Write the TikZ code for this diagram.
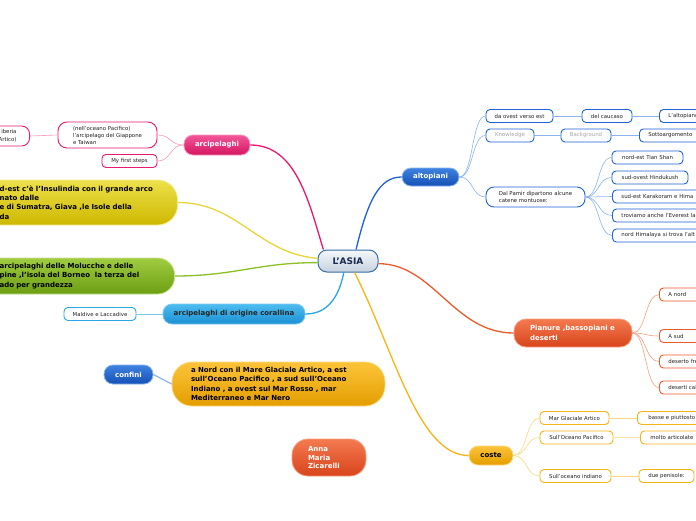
\documentclass[tikz,border=0pt]{standalone}
\usepackage{fontspec}
\setmainfont{DejaVu Sans}
\usepackage{xcolor}
\usepackage{tikz}
\usetikzlibrary{positioning}

\definecolor{pinkTop}{HTML}{F2579A}\definecolor{pinkBot}{HTML}{D4145F}\definecolor{pinkLine}{HTML}{E8196E}\definecolor{pinkTwig}{HTML}{F59AC0}
\definecolor{yelTop}{HTML}{EDE04A}\definecolor{yelBot}{HTML}{CDB800}\definecolor{yelLine}{HTML}{E6D63A}
\definecolor{grnTop}{HTML}{A0CC40}\definecolor{grnBot}{HTML}{6C9E14}\definecolor{grnLine}{HTML}{8CBF26}
\definecolor{cyTop}{HTML}{4DBDF0}\definecolor{cyBot}{HTML}{1B8FD2}\definecolor{cyLine}{HTML}{2BA6E4}\definecolor{cyTwig}{HTML}{7CC8EF}
\definecolor{bluTop}{HTML}{3F82E0}\definecolor{bluBot}{HTML}{1550B5}\definecolor{bluLine}{HTML}{1F62D0}\definecolor{bluTwig}{HTML}{8AB4F0}
\definecolor{orgTop}{HTML}{FCC43A}\definecolor{orgBot}{HTML}{E39E00}\definecolor{orgLine}{HTML}{F7B416}\definecolor{orgTwig}{HTML}{FCD980}
\definecolor{redTop}{HTML}{F47A50}\definecolor{redBot}{HTML}{D8441C}\definecolor{redLine}{HTML}{EC5A2C}\definecolor{redTwig}{HTML}{F5A080}
\definecolor{rootTop}{HTML}{F4F7FA}\definecolor{rootBot}{HTML}{C6D2DF}\definecolor{rootLine}{HTML}{3B6EA5}\definecolor{rootText}{HTML}{1A2A50}
\definecolor{leafText}{HTML}{222222}

\begin{document}
\begin{tikzpicture}[x=1pt, y=-1pt,
    root/.style={draw=rootLine, line width=1pt, rounded corners=9pt, top color=rootTop, bottom color=rootBot, minimum width=60pt, minimum height=22pt, font=\bfseries\fontsize{9}{10}\selectfont, text=rootText},
    topic/.style={rounded corners=9pt, line width=0.8pt, minimum height=19pt, font=\bfseries\fontsize{7}{9.3}\selectfont, text=white},
    pinktopic/.style={topic, top color=pinkTop, bottom color=pinkBot, draw=pinkTwig},
    yeltopic/.style={topic, top color=yelTop, bottom color=yelBot, draw=yelTop!60!white, text=black},
    grntopic/.style={topic, top color=grnTop, bottom color=grnBot, draw=grnTop!60!white, text=black},
    cytopic/.style={topic, top color=cyTop, bottom color=cyBot, draw=cyTwig, text=black!85},
    blutopic/.style={topic, top color=bluTop, bottom color=bluBot, draw=bluTwig},
    orgtopic/.style={topic, top color=orgTop, bottom color=orgBot, draw=orgTwig, text=black},
    redtopic/.style={topic, top color=redTop, bottom color=redBot, draw=redTwig},
    leaf/.style={draw, fill=white, line width=0.9pt, rounded corners=4pt, minimum height=13pt, inner ysep=1pt, font=\fontsize{5.4}{6}\selectfont, text=leafText},
    cutleaf/.style={leaf, anchor=west, text width=110pt, align=left, inner xsep=9pt},
    link/.style={line width=1.3pt},
    twig/.style={line width=0.6pt, to path={.. controls +(14,0) and +(-14,0) .. (\tikztotarget) \tikztonodes}},
    twigl/.style={line width=0.6pt, to path={.. controls +(-14,0) and +(14,0) .. (\tikztotarget) \tikztonodes}}
]
\useasboundingbox (0,0) rectangle (696,520);
\fill[white] (0,0) rectangle (696,520);
\clip (0,0) rectangle (696,520);

\node[root] (asia) at (348,261) {L'ASIA};

\node[pinktopic, minimum width=66pt, minimum height=20pt] (arcip) at (217,145) {arcipelaghi};
\node[leaf, draw=pinkLine, rounded corners=9pt, minimum width=99pt, minimum height=26pt, align=left, font=\fontsize{5.4}{7}\selectfont] (giappone) at (107.5,135) {(nell'oceano Pacifico)\\l'arcipelago del Giappone\\e Taiwan};
\node[leaf, draw=pinkLine, minimum width=55pt] (steps) at (129.5,161) {My first steps};
\node[leaf, draw=pinkLine, rounded corners=8pt, anchor=east, text width=40pt, align=right, inner xsep=13pt, minimum height=20pt, font=\fontsize{5.4}{8}\selectfont] (siberia) at (30,136) {iberia\\Artico)};

\node[yeltopic, rounded corners=20pt, anchor=east, text width=158pt, align=left, inner xsep=20pt, minimum height=45pt] (sonda) at (178,202.5) {d-est c'è l'Insulindia con il grande arco\\nato dalle\\e di Sumatra, Giava ,le Isole della\\da};
\node[grntopic, rounded corners=17pt, anchor=east, text width=155pt, align=left, inner xsep=20pt, minimum height=36pt] (molucche) at (175,276) {arcipelaghi delle Molucche e delle\\pine ,l'isola del Borneo\ \ la terza del\\ado per grandezza};

\node[cytopic, minimum width=142pt, minimum height=20pt] (corall) at (234,314) {arcipelaghi di origine corallina};
\node[leaf, draw=cyLine, minimum width=72pt] (maldive) at (100,314) {Maldive e Laccadive};

\node[blutopic, minimum width=49pt, minimum height=19pt] (confini) at (128.5,374.5) {confini};
\node[orgtopic, rounded corners=20pt, text width=175pt, align=left, inner xsep=19pt, minimum height=44pt] (nord) at (278.5,384) {a Nord con il Mare Glaciale Artico, a est\\sull'Oceano Pacifico , a sud sull'Oceano\\Indiano , a ovest sul Mar Rosso , mar\\Mediterraneo e Mar Nero};

\node[redtopic, rounded corners=16pt, text width=42pt, align=left, inner xsep=16pt, minimum height=37pt, font=\bfseries\fontsize{7}{8.5}\selectfont] (anna) at (329,457.5) {Anna\\Maria\\Zicarelli};

\node[blutopic, minimum width=57pt, minimum height=18pt] (alto) at (430.5,177) {altopiani};
\node[leaf, draw=bluLine, minimum width=67pt] (ovest) at (519.5,116) {da ovest verso est};
\node[leaf, draw=bluLine, minimum width=50pt] (caucaso) at (607,116) {del caucaso};
\node[cutleaf, draw=bluLine] (altopiano) at (659,116) {L'altopiano};
\node[leaf, draw=bluLine, minimum width=48pt, text=black!35] (knowledge) at (510,135.5) {Knowledge};
\node[leaf, draw=bluLine, minimum width=50pt, text=black!35] (background) at (586,135.5) {Background};
\node[cutleaf, draw=bluLine] (sotto) at (639,135.5) {Sottoargomento};
\node[leaf, draw=bluLine, rounded corners=8pt, minimum width=99pt, minimum height=20pt, align=left, font=\fontsize{5.4}{7}\selectfont] (pamir) at (535.5,197) {Dal Pamir dipartono alcune\\catene montuose:};
\node[leaf, draw=bluLine, minimum width=71pt] (tian) at (647.5,157.5) {nord-est Tian Shan};
\node[leaf, draw=bluLine, minimum width=76pt] (hindu) at (650,177.5) {sud-ovest Hindukush};
\node[cutleaf, draw=bluLine] (karak) at (612,196.5) {sud-est Karakoram e Hima};
\node[cutleaf, draw=bluLine] (everest) at (612,215.5) {troviamo anche l'Everest la};
\node[cutleaf, draw=bluLine] (himal) at (612,235.5) {nord Himalaya si trova l'alt};

\node[redtopic, rounded corners=12pt, text width=86pt, align=left, inner xsep=16pt, minimum height=28pt] (pianure) at (573,333) {Pianure ,bassopiani e\\deserti};
\node[cutleaf, draw=redLine] (anord) at (659,294.5) {A nord};
\node[cutleaf, draw=redLine] (asud) at (659,336) {A sud};
\node[cutleaf, draw=redLine] (freddo) at (659,361.5) {deserto fre};
\node[cutleaf, draw=redLine] (caldo) at (659,387.5) {deserti cal};

\node[orgtopic, minimum width=44pt, minimum height=19pt] (coste) at (491,455.5) {coste};
\node[leaf, draw=orgLine, minimum width=69pt] (glaciale) at (574.5,418) {Mar Glaciale Artico};
\node[cutleaf, draw=orgLine, inner xsep=11pt] (basse) at (637,418) {basse e piuttosto};
\node[leaf, draw=orgLine, minimum width=73pt] (pacif) at (576.5,437.5) {Sull'Oceano Pacifico};
\node[cutleaf, draw=orgLine, inner xsep=10pt] (molto) at (640,437.5) {molto articolate};
\node[leaf, draw=orgLine, minimum width=71pt] (indiano) at (575.5,476) {Sull'oceano indiano};
\node[leaf, draw=orgLine, minimum width=55pt] (penisole) at (666.5,476) {due penisole:};

\draw[link, pinkLine] (asia.155) .. controls +(-15,-50) and +(45,0) .. (arcip.east);
\draw[link, yelLine] (asia.175) .. controls +(-60,-5) and +(60,0) .. (sonda.east);
\draw[link, grnLine] (asia.183) .. controls +(-60,0) and +(60,0) .. (molucche.east);
\draw[link, cyLine] (asia.250) .. controls +(-5,25) and +(22,0) .. (corall.east);
\draw[link, bluLine] (asia.55) .. controls +(12,-50) and +(-22,0) .. (alto.west);
\draw[link, redLine] (asia.355) .. controls +(55,0) and +(-60,0) .. (pianure.west);
\draw[link, orgLine] (asia.300) .. controls +(40,80) and +(-50,0) .. (coste.west);

\draw[twigl, pinkTwig] (arcip.west) to (giappone.east);
\draw[twigl, pinkTwig] (arcip.west) to (steps.east);
\draw[twig, pinkTwig] (siberia.east) -- (giappone.west);
\draw[twig, cyTwig] (maldive.east) -- (corall.west);
\draw[line width=1.2pt, bluTwig] (confini.east) -- (nord.west);

\draw[twig, bluTwig] (alto.east) to (ovest.west);
\draw[twig, bluTwig] (alto.east) to (knowledge.west);
\draw[twig, bluTwig] (alto.east) to (pamir.west);
\draw[twig, bluTwig] (ovest.east) -- (caucaso.west);
\draw[twig, bluTwig] (caucaso.east) -- (altopiano.west);
\draw[line width=1.2pt, bluTwig] (knowledge.east) -- (background.west);
\draw[line width=1.2pt, bluTwig] (background.east) -- (sotto.west);
\foreach \leafname in {tian, hindu, karak, everest, himal}
  \draw[twig, bluTwig] (pamir.east) to (\leafname.west);

\foreach \leafname in {anord, asud, freddo, caldo}
  \draw[twig, redTwig] (pianure.east) to (\leafname.west);

\foreach \leafname in {glaciale, pacif, indiano}
  \draw[twig, orgTwig] (coste.east) to (\leafname.west);
\draw[twig, orgTwig] (glaciale.east) -- (basse.west);
\draw[line width=1.4pt, orgTwig!70!white] (pacif.east) -- (molto.west);
\draw[twig, orgTwig] (indiano.east) -- (penisole.west);
\end{tikzpicture}
\end{document}
